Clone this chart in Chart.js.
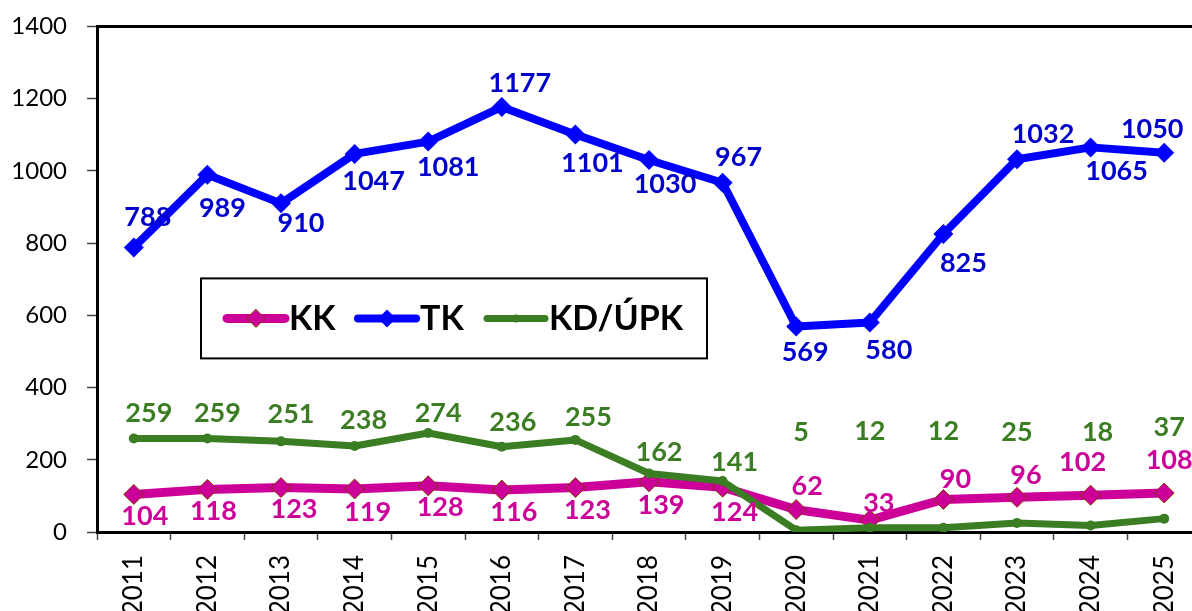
<!DOCTYPE html>
<html>
<head>
<meta charset="utf-8">
<script src="https://cdn.jsdelivr.net/npm/chart.js@4/dist/chart.umd.min.js"></script>
<style>
  html, body { margin: 0; padding: 0; background: #fff; overflow: hidden; }
  #wrap { position: absolute; left: 0; top: -8px; width: 1212px; height: 619px; }
</style>
</head>
<body>
<div id="wrap"><canvas id="chart" width="1212" height="619"></canvas></div>
<script>
// categories and values
const years = ['2011', '2012', '2013', '2014', '2015', '2016', '2017', '2018',
               '2019', '2020', '2021', '2022', '2023', '2024', '2025'];
const kkValues = [104, 118, 123, 119, 128, 116, 123, 139, 124, 62, 33, 90, 96, 102, 108];
const tkValues = [788, 989, 910, 1047, 1081, 1177, 1101, 1030, 967, 569, 580, 825, 1032, 1065, 1050];
const kdValues = [259, 259, 251, 238, 274, 236, 255, 162, 141, 5, 12, 12, 25, 18, 37];
const yTicks = [0, 200, 400, 600, 800, 1000, 1200, 1400];

// where each value label sits relative to its point (px), as placed in the original
const kkLabelOffsets = [[11, 22], [6, 22], [13, 22], [13, 23], [12, 22], [12, 22], [12, 23], [12, 23],
                        [12, 25], [11, -23], [9, -17], [12, -20], [9, -22], [-8, -33], [5, -33]];
const tkLabelOffsets = [[14, -30], [15, 33], [20, 20], [19, 27], [20, 26], [18, -24], [17, 29], [16, 24],
                        [16, -25], [9, 26], [19, 28], [20, 29], [26, -25], [26, 24], [-12, -24]];
const kdLabelOffsets = [[15, -25], [10, -25], [10, -27], [9, -26], [10, -20], [11, -24], [13, -23], [10, -21],
                        [12, -19], [5, -98], [0, -96], [0, -96], [0, -91], [7, -93], [5, -91]];

const FONT = 'Lato, Calibri, "Open Sans", sans-serif';

const valueLabels = {
  id: 'valueLabels',
  afterDatasetsDraw(chart) {
    const ctx = chart.ctx;
    ctx.save();
    ctx.font = 'bold 27px ' + FONT;
    ctx.textAlign = 'center';
    ctx.textBaseline = 'middle';
    chart.data.datasets.forEach((ds, di) => {
      const meta = chart.getDatasetMeta(di);
      ctx.fillStyle = ds.labelColor;
      meta.data.forEach((pt, i) => {
        const off = ds.labelOffsets[i];
        ctx.fillText(String(ds.data[i]), pt.x + off[0], pt.y + off[1]);
      });
    });
    ctx.restore();
  }
};

function drawMarker(ctx, style, r, x, y) {
  if (style === 'circle') {
    ctx.arc(x, y, r, 0, Math.PI * 2);
  } else {
    ctx.moveTo(x, y - r);
    ctx.lineTo(x + r, y);
    ctx.lineTo(x, y + r);
    ctx.lineTo(x - r, y);
    ctx.closePath();
  }
}

// top frame line and the boxed legend inside the plot
const frameAndLegend = {
  id: 'frameAndLegend',
  afterDraw(chart) {
    const ctx = chart.ctx;
    const area = chart.chartArea;
    ctx.save();
    ctx.strokeStyle = '#000';
    ctx.lineWidth = 3;
    ctx.beginPath();
    ctx.moveTo(area.left - 1, area.top);
    ctx.lineTo(area.right, area.top);
    ctx.stroke();

    // legend box, placed relative to the plot's top-left corner
    const bx = area.left + 104, by = area.top + 252, bw = 506, bh = 80;
    ctx.fillStyle = '#fff';
    ctx.fillRect(bx, by, bw, bh);
    ctx.lineWidth = 2;
    ctx.strokeRect(bx, by, bw, bh);

    const items = [
      { ds: 0, x: bx + 26, r: 9 },
      { ds: 1, x: bx + 157, r: 9 },
      { ds: 2, x: bx + 286, r: 4 }
    ];
    const cy = by + 40;
    items.forEach(it => {
      const ds = chart.data.datasets[it.ds];
      ctx.strokeStyle = ds.borderColor;
      ctx.lineWidth = ds.borderWidth;
      ctx.lineCap = 'round';
      ctx.beginPath();
      ctx.moveTo(it.x, cy);
      ctx.lineTo(it.x + 58, cy);
      ctx.stroke();
      ctx.fillStyle = ds.pointBackgroundColor;
      ctx.strokeStyle = ds.pointBorderColor;
      ctx.lineWidth = ds.pointBorderWidth || 1;
      ctx.beginPath();
      drawMarker(ctx, ds.pointStyle, it.r, it.x + 29, cy);
      ctx.fill();
      if (ds.pointBorderWidth) ctx.stroke();
      ctx.fillStyle = '#000';
      ctx.font = 'bold 34px ' + FONT;
      ctx.textAlign = 'left';
      ctx.textBaseline = 'middle';
      ctx.fillText(ds.label, it.x + 62, cy + 1);
    });
    ctx.restore();
  }
};

new Chart(document.getElementById('chart'), {
  type: 'line',
  data: {
    labels: years,
    datasets: [
      {
        label: 'KK',
        data: kkValues,
        borderColor: '#CC0099',
        backgroundColor: '#CC0099',
        borderWidth: 9,
        pointStyle: 'rectRot',
        pointRadius: 10,
        pointHoverRadius: 10,
        pointBackgroundColor: '#CC0099',
        pointBorderColor: '#7F3F00',
        pointBorderWidth: 1,
        labelColor: '#CC0099',
        labelOffsets: kkLabelOffsets,
        order: 2
      },
      {
        label: 'TK',
        data: tkValues,
        borderColor: '#0000FF',
        backgroundColor: '#0000FF',
        borderWidth: 8,
        pointStyle: 'rectRot',
        pointRadius: 10,
        pointHoverRadius: 10,
        pointBackgroundColor: '#0000FF',
        pointBorderColor: '#0000FF',
        pointBorderWidth: 0,
        labelColor: '#0000CC',
        labelOffsets: tkLabelOffsets,
        order: 3
      },
      {
        label: 'KD/ÚPK',
        data: kdValues,
        borderColor: '#3B7D23',
        backgroundColor: '#3B7D23',
        borderWidth: 7,
        pointStyle: 'circle',
        pointRadius: 5,
        pointHoverRadius: 5,
        pointBackgroundColor: '#3B7D23',
        pointBorderColor: '#3B7D23',
        pointBorderWidth: 0,
        labelColor: '#3B7D23',
        labelOffsets: kdLabelOffsets,
        order: 1
      }
    ]
  },
  options: {
    responsive: false,
    animation: false,
    devicePixelRatio: 1,
    layout: { padding: { top: 17, right: 0, bottom: 0, left: 0 } },
    elements: { line: { tension: 0, borderJoinStyle: 'round', borderCapStyle: 'round' } },
    plugins: {
      legend: { display: false },
      tooltip: { enabled: false }
    },
    scales: {
      x: {
        offset: true,
        grid: {
          offset: true,
          drawOnChartArea: false,
          drawTicks: true,
          tickLength: 8,
          tickWidth: 1.5,
          tickColor: '#444'
        },
        border: { display: true, color: '#000', width: 3 },
        ticks: {
          color: '#000',
          font: { family: FONT, size: 26 },
          minRotation: 90,
          maxRotation: 90,
          padding: 15,
          autoSkip: false
        },
        afterFit(scale) { scale.height = 79; }
      },
      y: {
        min: 0,
        max: 1400,
        afterBuildTicks(scale) { scale.ticks = yTicks.map(v => ({ value: v })); },
        grid: {
          drawOnChartArea: false,
          drawTicks: true,
          tickLength: 10,
          tickWidth: 1.5,
          tickColor: '#444'
        },
        border: { display: true, color: '#000', width: 3 },
        ticks: {
          color: '#000',
          font: { family: FONT, size: 24 },
          padding: 20,
          callback: v => String(v)
        },
        afterFit(scale) { scale.width = 97; }
      }
    }
  },
  plugins: [valueLabels, frameAndLegend]
});
</script>
</body>
</html>
